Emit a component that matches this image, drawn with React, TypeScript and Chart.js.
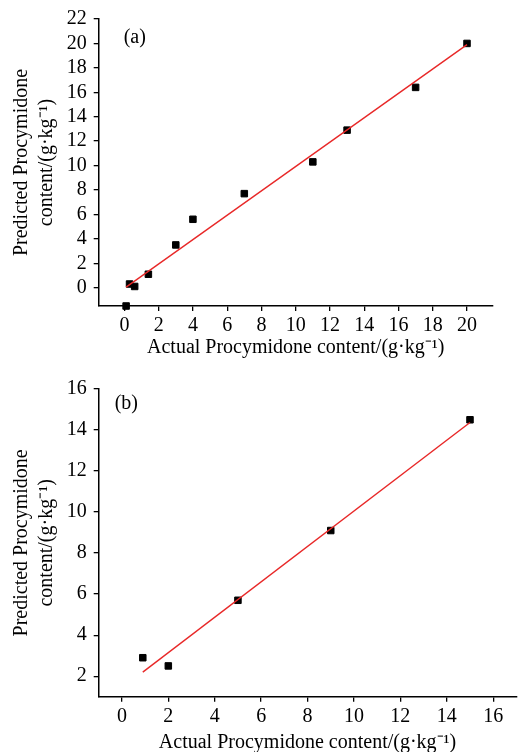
import React, { useEffect, useRef } from "react";
import { Chart, registerables } from "chart.js";

Chart.register(...registerables);

// Panel (a)
const actualA = [0.1, 0.3, 0.6, 1.4, 3, 4, 7, 11, 13, 17, 20];
const predictedA = [-1.5, 0.3, 0.1, 1.1, 3.5, 5.6, 7.7, 10.3, 12.9, 16.4, 20.0];
const fitAX = [0.1, 20];
const fitAY = [0.05, 19.9];
const xTicksA = [0, 2, 4, 6, 8, 10, 12, 14, 16, 18, 20];
const yTicksA = [0, 2, 4, 6, 8, 10, 12, 14, 16, 18, 20, 22];

// Panel (b)
const actualB = [0.9, 2, 5, 9, 15];
const predictedB = [2.9, 2.5, 5.7, 9.1, 14.5];
const fitBX = [0.9, 15];
const fitBY = [2.2, 14.37];
const xTicksB = [0, 2, 4, 6, 8, 10, 12, 14, 16];
const yTicksB = [2, 4, 6, 8, 10, 12, 14, 16];

const xTitle = "Actual Procymidone content/(g·kg⁻¹)";
const yTitle = ["Predicted Procymidone", "content/(g·kg⁻¹)"];

const FONT = "'Liberation Serif', 'Times New Roman', serif";

type PanelProps = {
  label: string;
  xs: number[];
  ys: number[];
  fx: number[];
  fy: number[];
  xTicks: number[];
  yTicks: number[];
  xMin: number;
  xMax: number;
  yMin: number;
  yMax: number;
  height: number;
  padTop: number;
  padRight: number;
  xScaleH: number;
  xTitlePad: number;
  labelDx: number;
  labelDy: number;
};

function Panel(p: PanelProps) {
  const ref = useRef<HTMLCanvasElement | null>(null);
  useEffect(() => {
    if (!ref.current) return;
    const labelPlugin = {
      id: "panelLabel",
      afterDraw(chart: any) {
        const { ctx, chartArea } = chart;
        ctx.save();
        ctx.font = `20px ${FONT}`;
        ctx.fillStyle = "#000";
        ctx.textBaseline = "middle";
        ctx.textAlign = "left";
        ctx.fillText(p.label, chartArea.left + p.labelDx, chartArea.top + p.labelDy);
        ctx.restore();
      },
    };
    const chart = new Chart(ref.current, {
      type: "scatter",
      data: {
        datasets: [
          {
            data: p.xs.map((x, i) => ({ x, y: p.ys[i] })),
            backgroundColor: "#000",
            borderColor: "#000",
            pointStyle: "rect",
            pointRadius: 4.6,
            pointBorderWidth: 1,
            showLine: false,
            clip: false as any,
            order: 2,
          },
          {
            data: p.fx.map((x, i) => ({ x, y: p.fy[i] })),
            borderColor: "rgb(232,40,40)",
            backgroundColor: "rgb(232,40,40)",
            borderWidth: 1.4,
            pointRadius: 0,
            showLine: true,
            clip: false as any,
            order: 1,
          },
        ],
      },
      options: {
        animation: false,
        responsive: false,
        maintainAspectRatio: false,
        events: [],
        layout: { padding: { top: p.padTop, right: p.padRight, left: 0, bottom: 0 } },
        plugins: { legend: { display: false }, tooltip: { enabled: false } },
        scales: {
          x: {
            type: "linear",
            min: p.xMin,
            max: p.xMax,
            afterBuildTicks: (s: any) => {
              s.ticks = p.xTicks.map((v) => ({ value: v }));
            },
            afterFit: (s: any) => {
              s.height = p.xScaleH;
            },
            ticks: {
              color: "#000",
              font: { family: FONT, size: 20 },
              padding: 3,
              maxRotation: 0,
              autoSkip: false,
            },
            grid: {
              display: true,
              drawOnChartArea: false,
              drawTicks: true,
              tickLength: 5,
              color: "#000",
              lineWidth: 1.3,
            },
            border: { display: true, color: "#000", width: 1.5 },
            title: {
              display: true,
              text: xTitle,
              color: "#000",
              font: { family: FONT, size: 20, lineHeight: 1.2 },
              padding: { top: 0, bottom: p.xTitlePad },
            },
          },
          y: {
            type: "linear",
            min: p.yMin,
            max: p.yMax,
            afterBuildTicks: (s: any) => {
              s.ticks = p.yTicks.map((v) => ({ value: v }));
            },
            afterFit: (s: any) => {
              s.width = 98.7;
            },
            ticks: {
              color: "#000",
              font: { family: FONT, size: 20 },
              padding: 7,
              autoSkip: false,
            },
            grid: {
              display: true,
              drawOnChartArea: false,
              drawTicks: true,
              tickLength: 5,
              color: "#000",
              lineWidth: 1.3,
            },
            border: { display: true, color: "#000", width: 1.5 },
            title: {
              display: true,
              text: yTitle,
              color: "#000",
              font: { family: FONT, size: 20, lineHeight: 1.25 },
              padding: { top: 9, bottom: 0 },
            },
          },
        },
      } as any,
      plugins: [labelPlugin],
    });
    return () => chart.destroy();
  }, []);
  return (
    <div style={{ width: 522, height: p.height, position: "relative" }}>
      <canvas ref={ref} width={522} height={p.height} style={{ display: "block", width: 522, height: p.height }} />
    </div>
  );
}

export default function App() {
  useEffect(() => {
    document.body.style.margin = "0";
    document.body.style.background = "#fff";
  }, []);
  return (
    <div style={{ width: 522, height: 752, background: "#fff", overflow: "hidden" }}>
      <Panel
        label="(a)"
        xs={actualA}
        ys={predictedA}
        fx={fitAX}
        fy={fitAY}
        xTicks={xTicksA}
        yTicks={yTicksA}
        xMin={-1.5}
        xMax={21.5}
        yMin={-1.5}
        yMax={22}
        height={370}
        padTop={19}
        padRight={29.3}
        xScaleH={64}
        xTitlePad={10}
        labelDx={25}
        labelDy={19}
      />
      <Panel
        label="(b)"
        xs={actualB}
        ys={predictedB}
        fx={fitBX}
        fy={fitBY}
        xTicks={xTicksB}
        yTicks={yTicksB}
        xMin={-1}
        xMax={17}
        yMin={1}
        yMax={16}
        height={382}
        padTop={18.3}
        padRight={1.3}
        xScaleH={55.3}
        xTitlePad={-3}
        labelDx={16}
        labelDy={14.7}
      />
    </div>
  );
}
